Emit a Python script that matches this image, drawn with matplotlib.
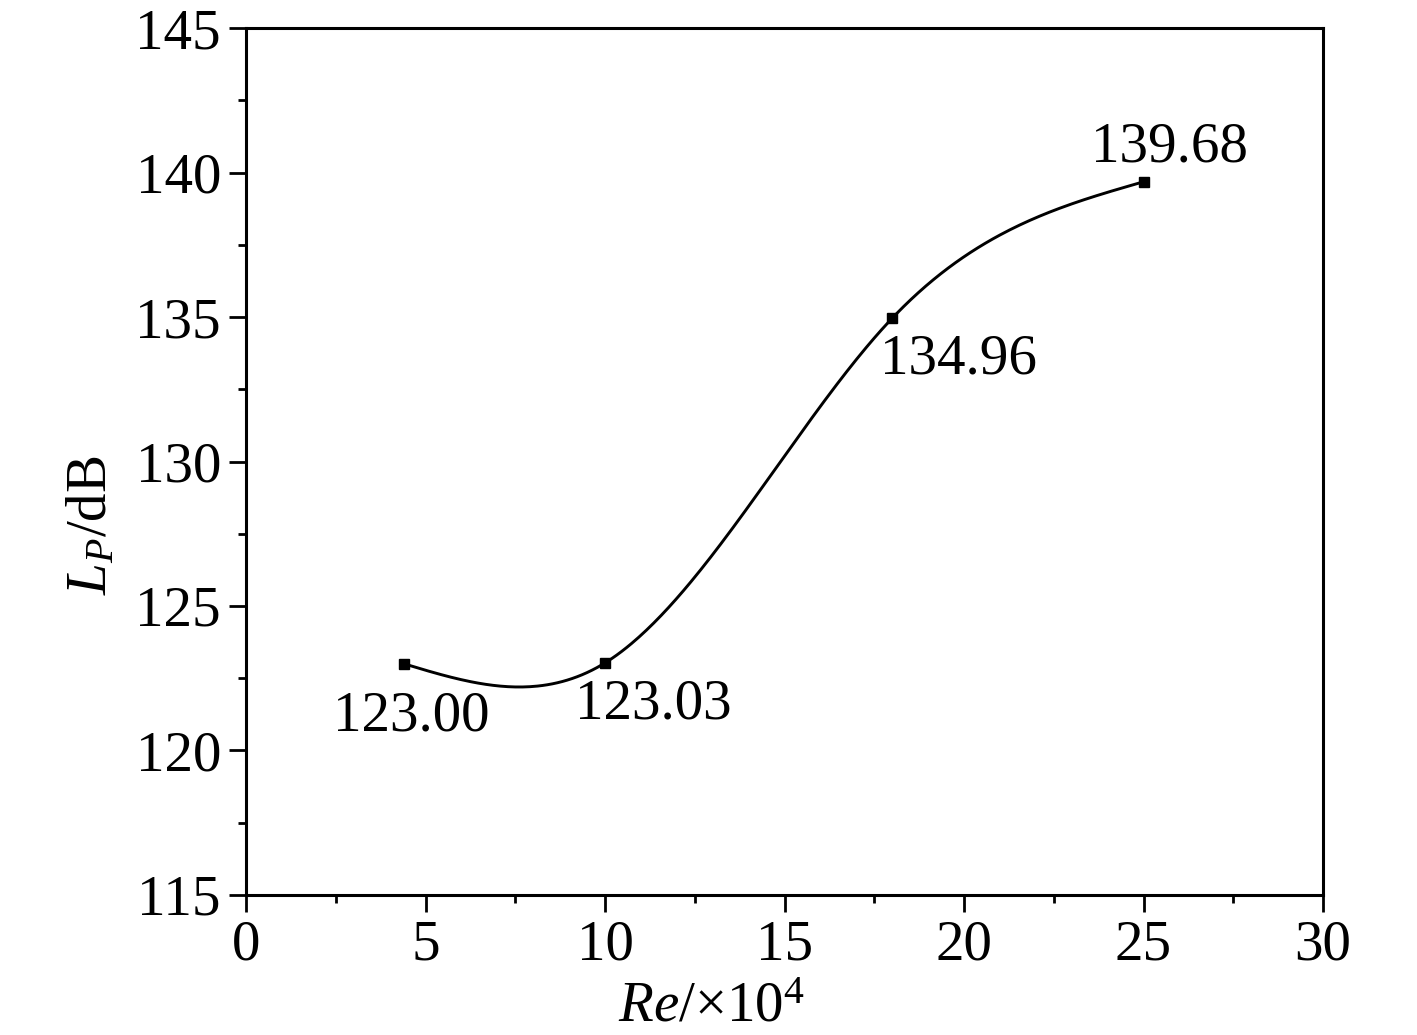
import numpy as np
import matplotlib
matplotlib.use('Agg')
import matplotlib.pyplot as plt
from matplotlib.ticker import MultipleLocator

plt.rcParams['font.family'] = ['Liberation Serif', 'DejaVu Serif']
plt.rcParams['mathtext.fontset'] = 'custom'
plt.rcParams['mathtext.rm'] = 'Liberation Serif'
plt.rcParams['mathtext.it'] = 'Liberation Serif:italic'

re_vals = [4.4, 10.0, 18.0, 25.0]
lp_vals = [123.00, 123.03, 134.96, 139.68]
labels = ['123.00', '123.03', '134.96', '139.68']
label_offsets = [(5, -38), (35, -30), (48, -30), (19, 25)]


def natural_spline(x, y, n=300):
    # natural cubic spline through the measured points (smooth connector like Origin)
    x = np.asarray(x, float)
    y = np.asarray(y, float)
    k = len(x)
    h = np.diff(x)
    A = np.zeros((k, k))
    b = np.zeros(k)
    A[0, 0] = A[-1, -1] = 1
    for i in range(1, k - 1):
        A[i, i - 1] = h[i - 1]
        A[i, i] = 2 * (h[i - 1] + h[i])
        A[i, i + 1] = h[i]
        b[i] = 6 * ((y[i + 1] - y[i]) / h[i] - (y[i] - y[i - 1]) / h[i - 1])
    M = np.linalg.solve(A, b)
    xs = np.linspace(x[0], x[-1], n)
    idx = np.clip(np.searchsorted(x, xs) - 1, 0, k - 2)
    x0, x1 = x[idx], x[idx + 1]
    hh = x1 - x0
    ys = (M[idx] * (x1 - xs) ** 3 / (6 * hh) + M[idx + 1] * (xs - x0) ** 3 / (6 * hh)
          + (y[idx] / hh - M[idx] * hh / 6) * (x1 - xs)
          + (y[idx + 1] / hh - M[idx + 1] * hh / 6) * (xs - x0))
    return xs, ys


fig = plt.figure(figsize=(14.17, 10.35), dpi=100)
ax = fig.add_axes([0.1736, 0.1353, 0.9337 - 0.1736, 0.9729 - 0.1353])

xs, ys = natural_spline(re_vals, lp_vals)
ax.plot(xs, ys, color='black', lw=2.1)
ax.plot(re_vals, lp_vals, 's', color='black', ms=6.5)

for xv, yv, lab, off in zip(re_vals, lp_vals, labels, label_offsets):
    ax.annotate(lab, (xv, yv), xytext=off, textcoords='offset points',
                ha='center', va='center', fontsize=41)

ax.set_xlim(0, 30)
ax.set_ylim(115, 145)
ax.xaxis.set_major_locator(MultipleLocator(5))
ax.xaxis.set_minor_locator(MultipleLocator(2.5))
ax.yaxis.set_major_locator(MultipleLocator(5))
ax.yaxis.set_minor_locator(MultipleLocator(2.5))
ax.tick_params(which='major', direction='out', length=12, width=2, labelsize=41, pad=6)
ax.tick_params(which='minor', direction='out', length=6, width=2)
for sp in ax.spines.values():
    sp.set_linewidth(2.2)

ax.set_xlabel(r'$Re$/×10$^4$', fontsize=41)
ax.set_ylabel(r'$L_P$/dB', fontsize=41)
ax.xaxis.set_label_coords(0.432, -0.100)
ax.yaxis.set_label_coords(-0.119, 0.427)

fig.savefig('out.png', dpi=100)
